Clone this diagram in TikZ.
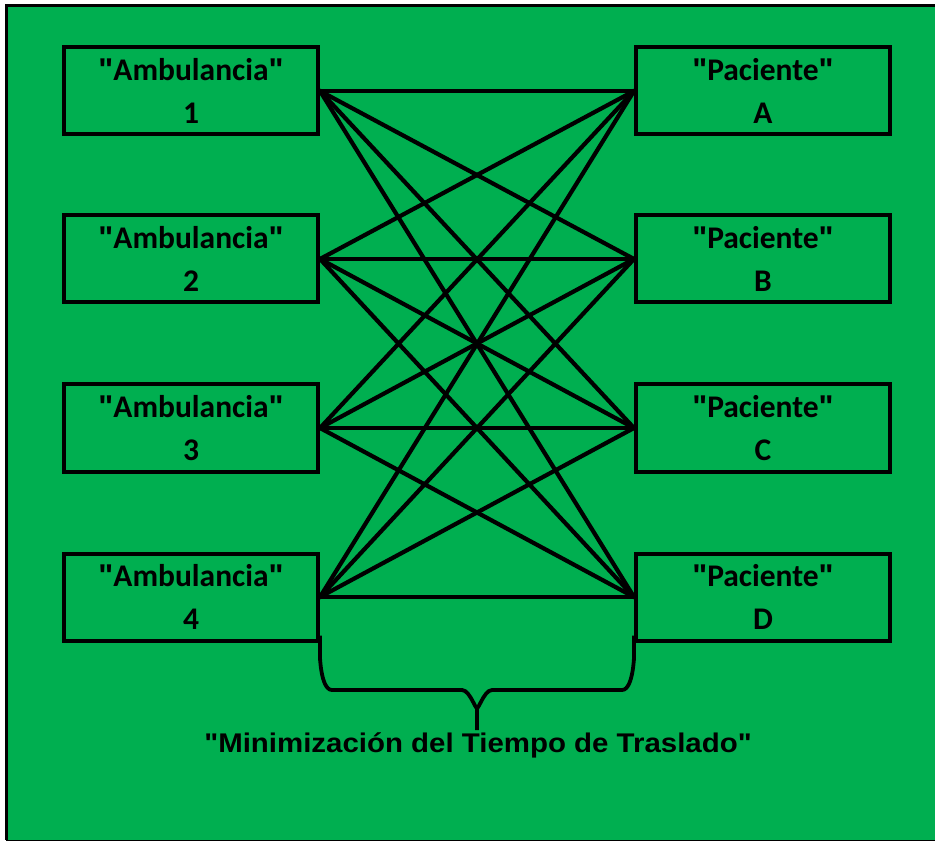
\documentclass[tikz,border=0pt]{standalone}
\usepackage{fontspec}
\setmainfont{Carlito}
\newfontfamily\titlefont{Liberation Sans}
\definecolor{bggreen}{HTML}{00AF50}
\newcommand{\qd}{{\titlefont\symbol{34}}}
\begin{document}
\begin{tikzpicture}[x=1pt,y=-1pt,
  boxst/.style={draw=black,line width=4pt,minimum width=254pt,minimum height=87pt,inner sep=0pt,
    align=center,font=\fontsize{31.5}{43}\selectfont\bfseries},
  link/.style={draw=black,line width=4.2pt},
  bracest/.style={draw=black,line width=3.8pt}]
\useasboundingbox (0,0) rectangle (935,842);
\fill[bggreen] (6,6) rectangle (935,840);
\draw[black,line width=3pt] (935,6) -- (6,6) -- (6,840);
\draw[black,line width=1.5pt] (6,840.5) -- (935,840.5);
% boxes
\node[boxst] (a1) at (191,91) {\qd Ambulancia\qd\\1};
\node[boxst] (a2) at (191,259) {\qd Ambulancia\qd\\2};
\node[boxst] (a3) at (191,428) {\qd Ambulancia\qd\\3};
\node[boxst] (a4) at (191,597) {\qd Ambulancia\qd\\4};
\node[boxst] (pa) at (763,91) {\qd Paciente\qd\\A};
\node[boxst] (pb) at (763,259) {\qd Paciente\qd\\B};
\node[boxst] (pc) at (763,428) {\qd Paciente\qd\\C};
\node[boxst] (pd) at (763,597) {\qd Paciente\qd\\D};
% connectors
\foreach \a in {a1,a2,a3,a4}{
  \foreach \p in {pa,pb,pc,pd}{
    \draw[link,shorten <=-1pt,shorten >=-1pt] (\a.east) -- (\p.west);
  }
}
% brace
\coordinate (bl) at (a4.south east);
\coordinate (br) at (pd.south west);
\coordinate (bm) at (477,730);
\draw[bracest] ([yshift=7pt]bl) -- ++(0,25) to[out=90,in=180] (332,690) -- (462,690) to[out=0,in=-90] (477,706) -- (bm);
\draw[bracest] ([yshift=7pt]br) -- ++(0,25) to[out=90,in=0] (622,690) -- (492,690) to[out=180,in=-90] (477,706);
\node[anchor=base,inner sep=0pt,font=\titlefont\fontsize{27}{30}\selectfont\bfseries,xscale=1.09] (title) at (478,752) {"Minimización del Tiempo de Traslado"};
\end{tikzpicture}
\end{document}
